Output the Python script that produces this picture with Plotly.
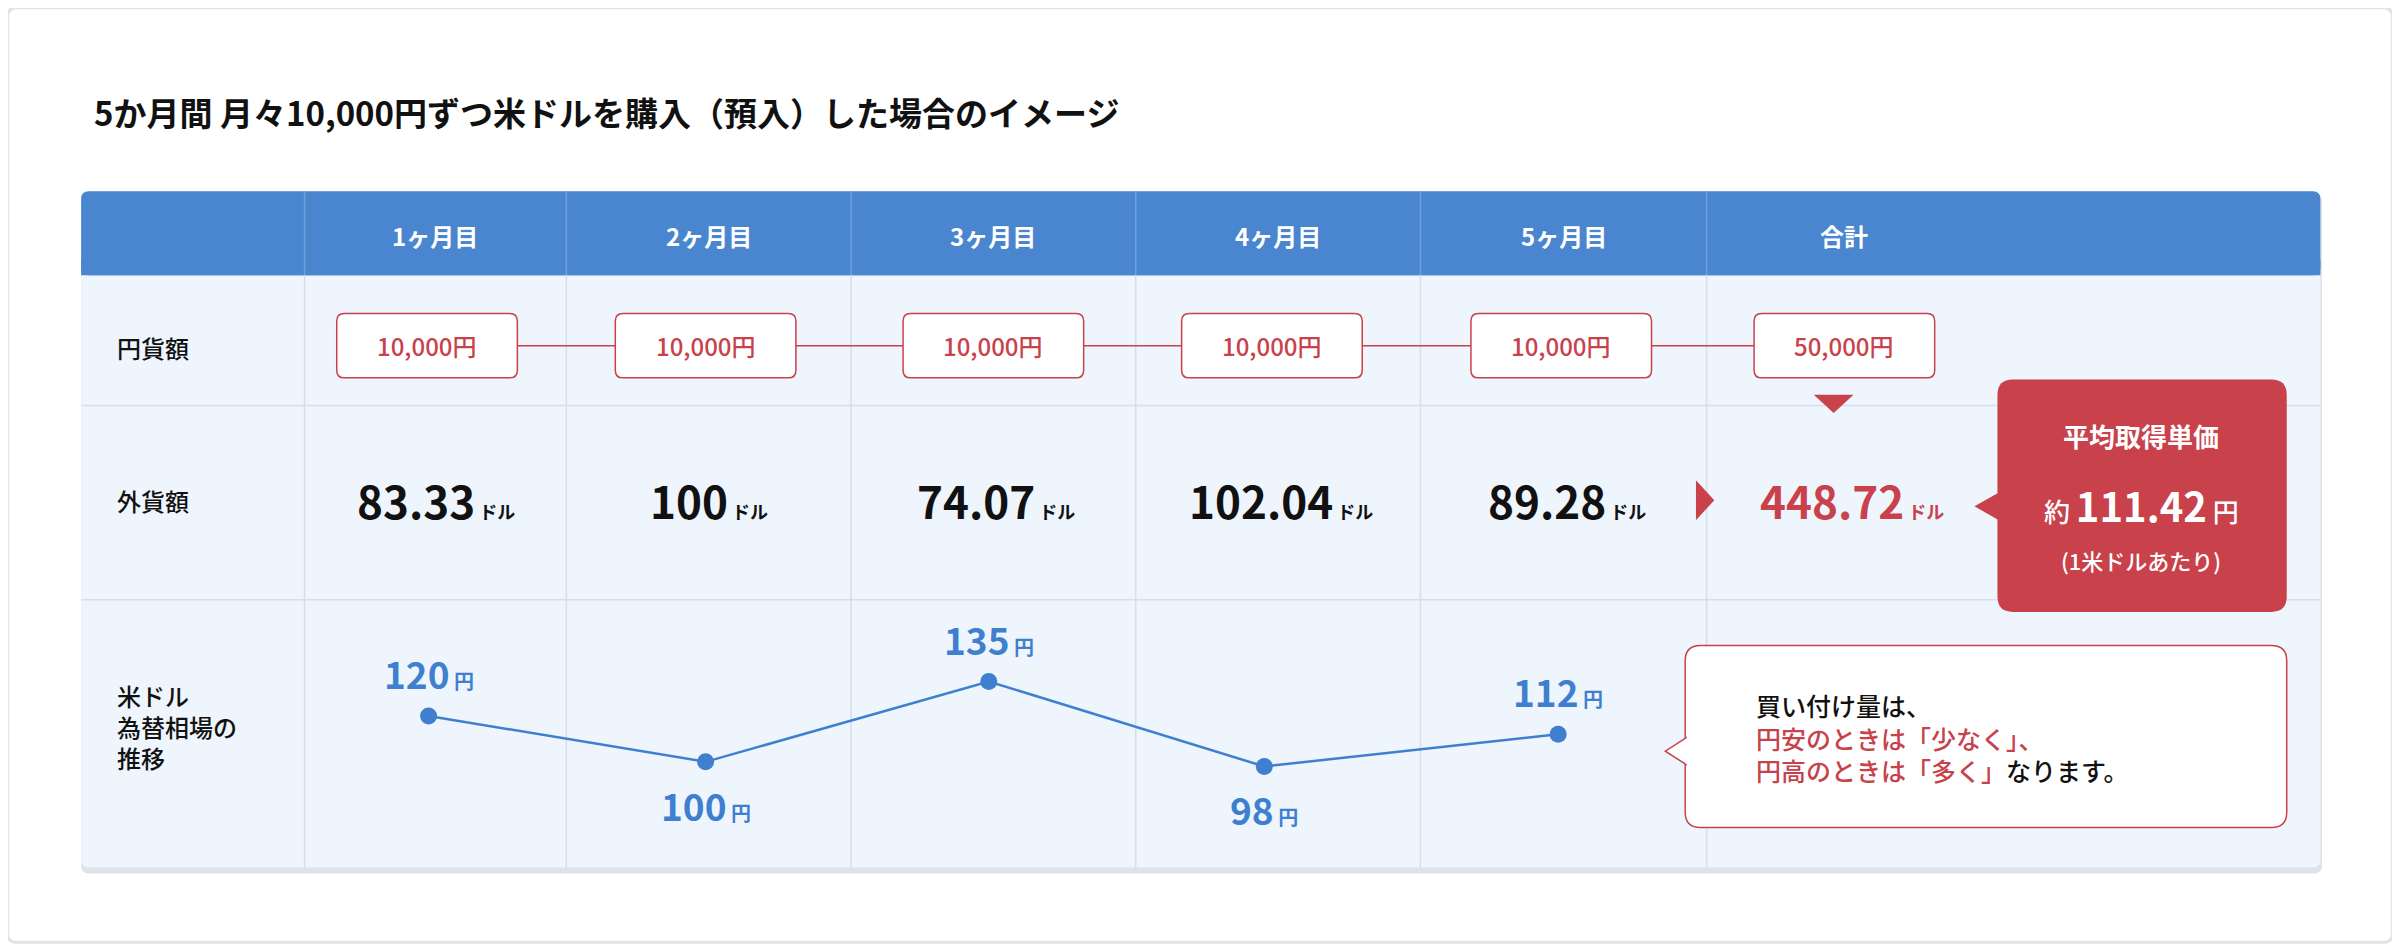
import plotly.graph_objects as go

months = ["1ヶ月目", "2ヶ月目", "3ヶ月目", "4ヶ月目", "5ヶ月目", "合計"]
yen_amounts = ["10,000円", "10,000円", "10,000円", "10,000円", "10,000円", "50,000円"]
usd_amounts = ["83.33", "100", "74.07", "102.04", "89.28", "448.72"]
rates = [120, 100, 135, 98, 112]
rate_label_pos = ["above", "below", "above", "below", "above"]
avg_price = "111.42"

S = 2400 / 1568
OFF = 8 / S
def fs(v): return round(v * S)
F = "Noto Sans CJK JP"
RED = "#c8414b"; BLUE = "#4a86cf"; LBLUE = "#3f7fcf"; BG = "#eef5fd"; GRID = "#d5deea"

col_edges = [53, 199, 370, 556, 742, 928, 1115, 1516]
col_centers = [(col_edges[i+1] + col_edges[i+2]) / 2 for i in range(6)]
col_centers[5] = 1205
line_x = [280, 461, 646, 826, 1018]

def rrect(x0, y0, x1, y1, r):
    return (f"M{x0+r},{y0} L{x1-r},{y0} Q{x1},{y0} {x1},{y0+r} L{x1},{y1-r} Q{x1},{y1} {x1-r},{y1} "
            f"L{x0+r},{y1} Q{x0},{y1} {x0},{y1-r} L{x0},{y0+r} Q{x0},{y0} {x0+r},{y0} Z")

shapes = []; ann = []
def add_path(p, fill, line=None, w=0):
    shapes.append(dict(type="path", path=p, xref="x", yref="y", fillcolor=fill,
                       line=dict(color=line or fill, width=w), layer="below"))
def text(x, y, t, size, color="#111", xanchor="center", weight=500, align="center"):
    ann.append(dict(x=x, y=y, xref="x", yref="y", text=t, showarrow=False,
                    font=dict(family=F, size=size, color=color, weight=weight),
                    xanchor=xanchor, yanchor="middle", align=align))

add_path(rrect(5, 5, 1563, 616, 6), "white", "#e3e3e3", 3)
add_path(rrect(53, 127, 1517, 571, 5), "#dde3ea")
add_path(rrect(53, 125, 1516, 567, 5), BG)
add_path(rrect(53, 125, 1516, 180, 5), BLUE)
shapes.append(dict(type="rect", x0=53, x1=1516, y0=170, y1=180, fillcolor=BLUE, line=dict(width=0), layer="below"))
for y in [265, 392]:
    shapes.append(dict(type="line", x0=53, x1=1516, y0=y, y1=y, line=dict(color=GRID, width=1.5), layer="below"))
for x in col_edges[1:-1]:
    shapes.append(dict(type="line", x0=x, x1=x, y0=125, y1=180, line=dict(color="#6f9fdc", width=1.5), layer="below"))
    shapes.append(dict(type="line", x0=x, x1=x, y0=180, y1=567, line=dict(color=GRID, width=1.5), layer="below"))

text(60, 73, "5か月間 月々10,000円ずつ米ドルを購入（預入）した場合のイメージ", fs(21.5), "#111", "left", weight=600)
for i, m in enumerate(months):
    text(col_centers[i], 154, m, fs(16), "white", weight=600)
text(75, 227, "円貨額", fs(16), "#111", "left")
text(75, 327, "外貨額", fs(16), "#111", "left")
text(75, 475, "米ドル<br>為替相場の<br>推移", fs(16), "#111", "left", align="left")

shapes.append(dict(type="line", x0=300, x1=1180, y0=226, y1=226, line=dict(color=RED, width=1.5), layer="below"))
for i, v in enumerate(yen_amounts):
    cx = [279, 461, 649, 831, 1020, 1205][i]
    shapes.append(dict(type="path", path=rrect(cx-59, 205, cx+59, 247, 5), xref="x", yref="y",
                       fillcolor="white", line=dict(color=RED, width=1.5)))
    text(cx, 226, v, fs(16), RED)
add_path("M1185,258 L1211,258 L1198,270 Z", RED)

usd_x = [285, 463, 651, 837, 1024, 1210]
for i, v in enumerate(usd_amounts):
    c = RED if i == 5 else "#111"
    text(usd_x[i], 327, f"{v}<span style='font-size:{fs(12)}px'> ドル</span>", fs(29), c, weight=600)
add_path("M1108,314 L1120,327 L1108,340 Z", RED)

add_path(rrect(1305, 248, 1494, 400, 10), RED)
add_path("M1306,322 L1290,331 L1306,340 Z", RED)
text(1399, 285, "平均取得単価", fs(17), "white", weight=600)
text(1399, 330, f"約 <b><span style='font-size:{fs(26)}px'>{avg_price}</span></b> 円", fs(17), "white")
text(1399, 366, "(1米ドルあたり)", fs(14.5), "white")

shapes.append(dict(type="path", path=rrect(1101, 422, 1494, 541, 10), xref="x", yref="y",
                   fillcolor="white", line=dict(color=RED, width=1.5)))
shapes.append(dict(type="path", path="M1102,482 L1088,491 L1102,500", xref="x", yref="y",
                   fillcolor="white", line=dict(color=RED, width=1.5)))
shapes.append(dict(type="line", x0=1102, x1=1102, y0=483, y1=499, line=dict(color="white", width=3)))
text(1146, 482, f"買い付け量は、<br><span style='color:{RED}'>円安のときは「少なく」、</span><br>"
     f"<span style='color:{RED}'>円高のときは「多く」</span>なります。", fs(16.5), "#111", "left", align="left")

fig = go.Figure()
fig.add_trace(go.Scatter(x=line_x, y=rates, yaxis="y2", mode="lines+markers",
                         line=dict(color=LBLUE, width=2.5), marker=dict(size=fs(11), color=LBLUE),
                         hoverinfo="skip", showlegend=False))
for x, r, pos in zip(line_x, rates, rate_label_pos):
    ann.append(dict(x=x, y=r, xref="x", yref="y2", showarrow=False,
                    text=f"{r}<span style='font-size:{fs(13)}px'> 円</span>",
                    font=dict(family=F, size=fs(24), color=LBLUE, weight=600),
                    yshift=fs(28) if pos == "above" else -fs(28), yanchor="middle", xanchor="center"))

y2lo = 120 - (621 + OFF - 468) / 1.5
y2hi = 120 - (OFF - 468) / 1.5
fig.update_layout(width=2400, height=950, margin=dict(l=0, r=0, t=0, b=0),
                  paper_bgcolor="white", plot_bgcolor="rgba(0,0,0,0)",
                  xaxis=dict(range=[OFF, 1568 + OFF], visible=False, fixedrange=True),
                  yaxis=dict(range=[621 + OFF, OFF], visible=False, fixedrange=True),
                  yaxis2=dict(range=[y2lo, y2hi], overlaying="y", visible=False),
                  shapes=shapes, annotations=ann)
fig.write_html("out.html")
